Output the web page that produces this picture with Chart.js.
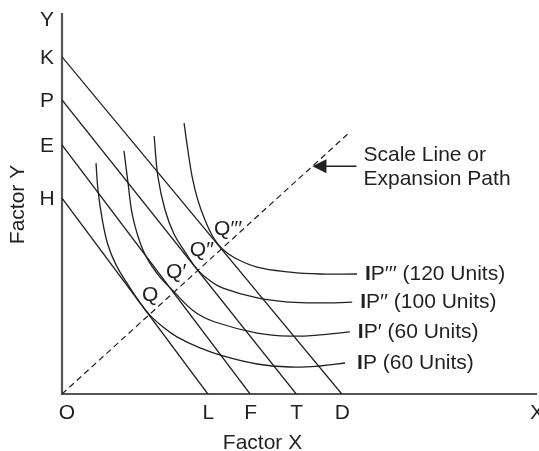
<!DOCTYPE html>
<html><head><meta charset="utf-8">
<script src="https://cdn.jsdelivr.net/npm/chart.js@4"></script>
<style>html,body{margin:0;padding:0;background:#fff}#c{display:block}</style>
</head><body>
<div style="width:539px;height:451px"><canvas id="c" width="539" height="451"></canvas></div>
<script>
// ---- data (units: 0..100 on each factor axis) ----
const isocostStart = ["H", "E", "P", "K"];
const isocostEnd = ["L", "F", "T", "D"];
const isocostYIntercepts = [51.4, 65.4, 77.2, 88.5];
const isocostXIntercepts = [30.7, 39.6, 49.3, 58.9];

const isoquantLabels = ["IP (60 Units)", "IP′ (60 Units)", "IP′′ (100 Units)", "IP′′′ (120 Units)"];
const ipX = [7.16, 7.58, 8.42, 9.68, 11.37, 13.68, 16.0, 18.5, 21.26, 24.2, 29.05, 33.9, 41.05, 48.0, 54.3, 59.6];
const ipY = [60.6, 53.5, 46.2, 39.1, 33.9, 29.1, 24.7, 20.7, 17.6, 15.0, 12.1, 10.0, 7.87, 7.09, 7.35, 8.14];
const ip1X = [13.05, 13.9, 14.9, 17.05, 19.8, 23.6, 28.0, 32.2, 41.1, 48.0, 54.3, 60.6];
const ip1Y = [63.8, 55.4, 46.5, 37.8, 32.0, 26.8, 21.5, 18.9, 16.0, 15.2, 15.5, 16.3];
const ip2X = [19.4, 20.2, 21.7, 23.58, 25.9, 28.6, 31.2, 33.9, 41.1, 48.0, 54.3, 61.1];
const ip2Y = [67.7, 57.0, 48.3, 42.0, 37.3, 32.5, 29.7, 27.8, 25.2, 24.1, 23.9, 24.1];
const ip3X = [25.7, 26.5, 27.4, 28.6, 30.1, 31.8, 33.7, 36.4, 41.1, 48.0, 54.3, 62.1];
const ip3Y = [71.1, 64.0, 57.0, 50.9, 45.7, 41.2, 38.1, 35.7, 33.3, 32.0, 31.5, 31.5];

const equilibriumLabels = ["Q", "Q′", "Q′′", "Q′′′"];
const equilibriumX = [18.5, 23.6, 28.6, 33.7];
const equilibriumY = [20.7, 26.8, 32.5, 38.1];

const scaleLineX = [0, 60.4];
const scaleLineY = [0, 68.5];
const scaleLineText = ["Scale Line or", "Expansion Path"];
const arrowAt = 0.873; // fraction along the scale line where the arrow points

const axisTitles = ["Factor X", "Factor Y"];

// ---- build datasets ----
const INK = "#231f20";
const FONT = "Liberation Sans, Arial, Helvetica, sans-serif";
const pts = (xs, ys) => xs.map((x, i) => ({x, y: ys[i]}));

const datasets = [];
isocostYIntercepts.forEach((yi, i) => {
  datasets.push({data: [{x: 0, y: yi}, {x: isocostXIntercepts[i], y: 0}],
    borderColor: INK, borderWidth: 1.3, tension: 0, showLine: true, pointRadius: 0});
});
[[ipX, ipY], [ip1X, ip1Y], [ip2X, ip2Y], [ip3X, ip3Y]].forEach(([xs, ys]) => {
  datasets.push({data: pts(xs, ys), borderColor: INK, borderWidth: 1.3, tension: 0.4,
    showLine: true, pointRadius: 0});
});
datasets.push({data: pts(scaleLineX, scaleLineY), borderColor: INK, borderWidth: 1.2,
  borderDash: [6, 4], showLine: true, pointRadius: 0, tension: 0});

const curveLabelGap = [12, 8, 8, 8];

const labelsPlugin = {
  id: "labels",
  beforeDatasetsDraw(chart) {
    const {ctx, scales: {x, y}} = chart;
    ctx.save();
    ctx.strokeStyle = "#555";
    ctx.lineWidth = 2.2;
    ctx.beginPath();
    ctx.moveTo(x.getPixelForValue(0), y.getPixelForValue(100));
    ctx.lineTo(x.getPixelForValue(0), y.getPixelForValue(0));
    ctx.lineTo(x.getPixelForValue(100), y.getPixelForValue(0));
    ctx.stroke();
    ctx.restore();
  },
  afterDatasetsDraw(chart) {
    const {ctx, scales: {x, y}} = chart;
    const x0 = x.getPixelForValue(0), y0 = y.getPixelForValue(0);
    ctx.save();
    ctx.fillStyle = INK;
    ctx.textBaseline = "middle";
    ctx.font = "21px " + FONT;
    const t = (s, px, py, al) => { ctx.textAlign = al || "center"; ctx.fillText(s, px, py); };
    // axis letters
    t("Y", x0 - 15, y.getPixelForValue(100) + 7);
    isocostStart.forEach((s, i) => t(s, x0 - 15, y.getPixelForValue(isocostYIntercepts[i]) + 1));
    t("O", x0 + 5, y0 + 19);
    isocostEnd.forEach((s, i) => t(s, x.getPixelForValue(isocostXIntercepts[i]) + 0.5, y0 + 19));
    t("X", x.getPixelForValue(100) - 7, y0 + 19, "left");
    // axis titles
    t(axisTitles[0], (x0 + x.getPixelForValue(100)) / 2 - 37, y0 + 49);
    ctx.save();
    ctx.translate(18, (y0 + y.getPixelForValue(100)) / 2 + 1);
    ctx.rotate(-Math.PI / 2);
    t(axisTitles[1], 0, 0);
    ctx.restore();
    // equilibrium labels
    equilibriumLabels.forEach((s, i) => {
      const px = x.getPixelForValue(equilibriumX[i]), py = y.getPixelForValue(equilibriumY[i]);
      t(s, px - 8, py - 20, "left");
    });
    // isoquant labels
    const ends = [[ipX, ipY], [ip1X, ip1Y], [ip2X, ip2Y], [ip3X, ip3Y]];
    isoquantLabels.forEach((s, i) => {
      const [xs, ys] = ends[i];
      const px = x.getPixelForValue(xs[xs.length - 1]) + curveLabelGap[i];
      const py = y.getPixelForValue(ys[ys.length - 1]);
      ctx.textAlign = "left";
      ctx.font = "bold 21px " + FONT;
      ctx.fillText("I", px, py);
      const w = ctx.measureText("I").width;
      ctx.font = "21px " + FONT;
      ctx.fillText(s.slice(1), px + w, py);
    });
    // arrow to scale line
    const ax = x.getPixelForValue(scaleLineX[0] + (scaleLineX[1] - scaleLineX[0]) * arrowAt);
    const ay = y.getPixelForValue(scaleLineY[0] + (scaleLineY[1] - scaleLineY[0]) * arrowAt);
    ctx.strokeStyle = INK;
    ctx.lineWidth = 1.5;
    ctx.beginPath();
    ctx.moveTo(ax + 12, ay);
    ctx.lineTo(ax + 44, ay);
    ctx.stroke();
    ctx.beginPath();
    ctx.moveTo(ax, ay);
    ctx.lineTo(ax + 14, ay - 7);
    ctx.lineTo(ax + 14, ay + 7);
    ctx.closePath();
    ctx.fill();
    ctx.font = "21px " + FONT;
    t(scaleLineText[0], ax + 51, ay - 11, "left");
    t(scaleLineText[1], ax + 51, ay + 13, "left");
    ctx.restore();
  }
};

new Chart(document.getElementById("c"), {
  type: "scatter",
  data: {datasets},
  options: {
    responsive: false,
    animation: false,
    layout: {padding: {left: 62, right: 2, top: 13, bottom: 57}},
    scales: {
      x: {type: "linear", min: 0, max: 100, display: false},
      y: {type: "linear", min: 0, max: 100, display: false}
    },
    plugins: {legend: {display: false}, tooltip: {enabled: false}}
  },
  plugins: [labelsPlugin]
});
</script>
</body></html>
